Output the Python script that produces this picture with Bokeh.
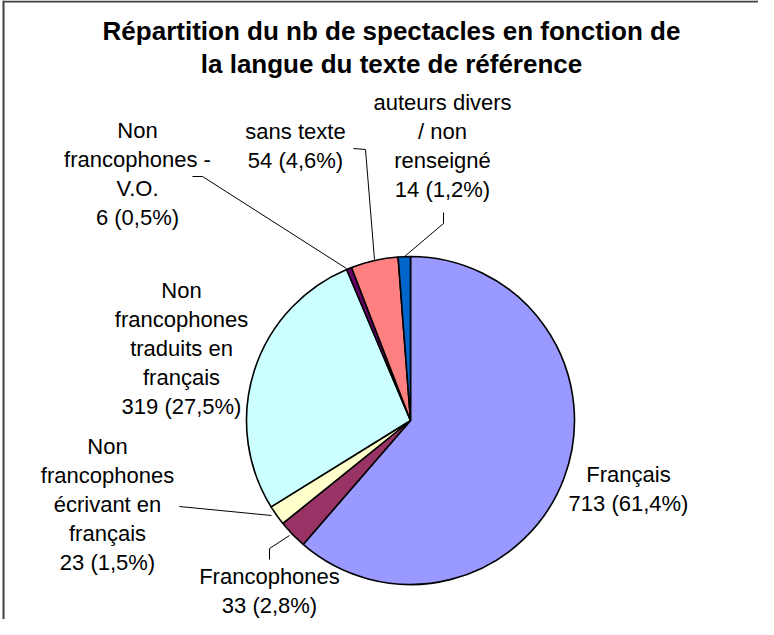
import numpy as np
from bokeh.plotting import figure
from bokeh.models import Range1d, ColumnDataSource
from bokeh.core.properties import value
from bokeh.embed import file_html
from bokeh.resources import INLINE

# ---------------- data ----------------
title_lines = ["Répartition du nb de spectacles en fonction de",
               "la langue du texte de référence"]
categories = ["Français", "Francophones",
              "Non francophones écrivant en français",
              "Non francophones traduits en français",
              "Non francophones - V.O.", "sans texte",
              "auteurs divers / non renseigné"]
counts = [713, 33, 23, 319, 6, 54, 14]
pct_labels = ["61,4%", "2,8%", "1,5%", "27,5%", "0,5%", "4,6%", "1,2%"]
label_lines = [
    ["Français"],
    ["Francophones"],
    ["Non", "francophones", "écrivant en", "français"],
    ["Non", "francophones", "traduits en", "français"],
    ["Non", "francophones -", "V.O."],
    ["sans texte"],
    ["auteurs divers", "/ non", "renseigné"],
]
colors = ["#9999FF", "#993366", "#FFFFCC", "#CCFFFF", "#660066", "#FF8080", "#0066CC"]

# ---------------- layout (page pixel coords) ----------------
W, H = 758, 619
def px(x):
    return x - 8
def py(y):
    return H + 8 - y

FONT = "Liberation Sans"
LINE = 29
center = (418, 428)
radius = 164
# first-line centre of each label
label_pos = [(636, 482), (277, 584), (115, 454), (189, 298), (145, 138), (303, 139), (450, 110)]
leaders = [
    None,
    [(297, 543), (277, 556), (277, 567)],
    [(279, 523), (187, 514)],
    None,
    [(354, 276), (210, 184), (200, 184)],
    [(382, 267), (373, 157), (361, 156)],
    [(412, 264), (451, 231), (451, 220)],
]

p = figure(width=W, height=H, x_range=Range1d(0, W), y_range=Range1d(0, H),
           output_backend="svg", toolbar_location=None, min_border=0,
           x_axis_type=None, y_axis_type=None)
p.grid.visible = False
p.outline_line_color = None
p.background_fill_color = "white"
p.border_fill_color = "white"

# frame lines (top and left)
p.line([px(11), px(11)], [py(8), py(640)], line_color="#404040", line_width=2)
p.line([px(11), px(780)], [py(9), py(9)], line_color="#404040", line_width=2)

# pie
vals = np.array(counts, dtype=float)
frac = vals / vals.sum()
c1 = np.cumsum(frac)
c0 = c1 - frac
start = np.pi / 2 - 2 * np.pi * c1
end = np.pi / 2 - 2 * np.pi * c0
src = ColumnDataSource(dict(start=start, end=end, color=colors, cat=categories))
p.wedge(x=px(center[0]), y=py(center[1]), radius=radius, radius_units="screen",
        start_angle="start", end_angle="end", fill_color="color",
        line_color="black", line_width=1.6, source=src)

# leader lines
for ld in leaders:
    if ld is None:
        continue
    p.line([px(a) for a, b in ld], [py(b) for a, b in ld], line_color="black", line_width=1)

# labels
tx, ty, tt = [], [], []
for i, lines in enumerate(label_lines):
    full = lines + [f"{counts[i]} ({pct_labels[i]})"]
    cx, cy = label_pos[i]
    for j, s in enumerate(full):
        tx.append(px(cx))
        ty.append(py(cy + j * LINE))
        tt.append(s)
p.text(x=tx, y=ty, text=tt, text_align="center", text_baseline="middle",
       text_font=value(FONT), text_font_size="22px", text_color="black")

# title
p.text(x=[px(399), px(399)], y=[py(38), py(71)], text=title_lines,
       text_align="center", text_baseline="alphabetic", text_font=value(FONT),
       text_font_size="26px", text_font_style="bold", text_color="black")

open("out.html", "w").write(file_html(p, INLINE))
